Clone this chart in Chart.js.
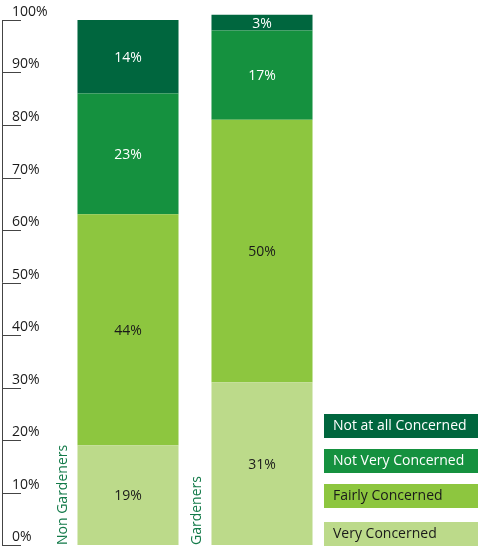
<!DOCTYPE html>
<html>
<head>
<meta charset="utf-8">
<script src="https://cdn.jsdelivr.net/npm/chart.js@4/dist/chart.umd.min.js"></script>
<style>
  html, body { margin: 0; padding: 0; background: #ffffff; }
  #wrap { width: 478px; height: 547px; position: relative; }
</style>
</head>
<body>
<div id="wrap"><canvas id="c" width="478" height="547"></canvas></div>
<script>
// Concern levels by group, percent of respondents
const categories = ['Non Gardeners', 'Gardeners'];
const veryConcerned = [19, 31];
const fairlyConcerned = [44, 50];
const notVeryConcerned = [23, 17];
const notAtAllConcerned = [14, 3];
const seriesNames = ['Very Concerned', 'Fairly Concerned', 'Not Very Concerned', 'Not at all Concerned'];
const tickValues = [0, 10, 20, 30, 40, 50, 60, 70, 80, 90, 100];
const tickLabels = ['0%', '10%', '20%', '30%', '40%', '50%', '60%', '70%', '80%', '90%', '100%'];

const fills = ['#bcda8a', '#8dc63f', '#15913f', '#00663e'];
const inkOn = ['#1a1a1a', '#1a1a1a', '#ffffff', '#ffffff'];
const FONT = '"Open Sans", "Noto Sans", sans-serif';

const seriesValues = [veryConcerned, fairlyConcerned, notVeryConcerned, notAtAllConcerned];

// Percent labels centred in each segment
const segmentLabels = {
  id: 'segmentLabels',
  afterDatasetsDraw(chart) {
    const ctx = chart.ctx;
    ctx.save();
    ctx.font = '14px ' + FONT;
    ctx.textAlign = 'center';
    ctx.textBaseline = 'middle';
    chart.data.datasets.forEach((ds, di) => {
      chart.getDatasetMeta(di).data.forEach((el, i) => {
        ctx.fillStyle = inkOn[di];
        ctx.fillText(ds.data[i] + '%', el.x, (el.y + el.base) / 2 + 1);
      });
    });
    ctx.restore();
  }
};

// Left percentage axis with labels sitting above each tick
const percentAxis = {
  id: 'percentAxis',
  afterDraw(chart) {
    const ctx = chart.ctx;
    const y = chart.scales.y;
    ctx.save();
    ctx.strokeStyle = '#444444';
    ctx.lineWidth = 1;
    ctx.beginPath();
    ctx.moveTo(2.5, y.getPixelForValue(100));
    ctx.lineTo(2.5, y.getPixelForValue(0));
    ctx.stroke();
    ctx.font = '14px ' + FONT;
    ctx.fillStyle = '#1a1a1a';
    ctx.textAlign = 'left';
    ctx.textBaseline = 'alphabetic';
    tickValues.forEach((v, i) => {
      const py = Math.round(y.getPixelForValue(v)) + 0.5;
      ctx.beginPath();
      ctx.moveTo(2, py);
      ctx.lineTo(21, py);
      ctx.stroke();
      ctx.fillText(tickLabels[i], 12, py - 5);
    });
    ctx.restore();
  }
};

// Vertical group names beside each bar
const groupNames = {
  id: 'groupNames',
  afterDraw(chart) {
    const ctx = chart.ctx;
    const meta = chart.getDatasetMeta(0);
    const bottom = chart.scales.y.getPixelForValue(0);
    ctx.save();
    ctx.font = '14px ' + FONT;
    ctx.fillStyle = '#137a49';
    ctx.textAlign = 'left';
    ctx.textBaseline = 'alphabetic';
    meta.data.forEach((el, i) => {
      const half = el.width / 2;
      ctx.save();
      ctx.translate(el.x - half - 10, bottom);
      ctx.rotate(-Math.PI / 2);
      ctx.fillText(categories[i], 0, 0);
      ctx.restore();
    });
    ctx.restore();
  }
};

// Legend as filled strips with the series name inside
const stripLegend = {
  id: 'stripLegend',
  afterDraw(chart) {
    const ctx = chart.ctx;
    const rows = [414, 449, 484, 522];
    ctx.save();
    ctx.font = '14px ' + FONT;
    ctx.textAlign = 'left';
    ctx.textBaseline = 'middle';
    for (let r = 0; r < 4; r++) {
      const di = 3 - r;
      ctx.fillStyle = fills[di];
      ctx.fillRect(324, rows[r], 154, 24);
      ctx.fillStyle = inkOn[di];
      ctx.fillText(chart.data.datasets[di].label, 333, rows[r] + 12.5);
    }
    ctx.restore();
  }
};

new Chart(document.getElementById('c'), {
  type: 'bar',
  data: {
    labels: categories,
    datasets: seriesNames.map((name, i) => ({
      label: name,
      data: seriesValues[i],
      backgroundColor: fills[i],
      borderWidth: 0,
      categoryPercentage: 1,
      barPercentage: 0.754,
      clip: false
    }))
  },
  options: {
    responsive: false,
    animation: false,
    layout: { padding: { left: 61, right: 149, top: 20, bottom: 2 } },
    plugins: { legend: { display: false }, tooltip: { enabled: false } },
    scales: {
      x: { stacked: true, display: false },
      y: { stacked: true, display: false, min: 0, max: 100 }
    }
  },
  plugins: [segmentLabels, percentAxis, groupNames, stripLegend]
});
</script>
</body>
</html>
